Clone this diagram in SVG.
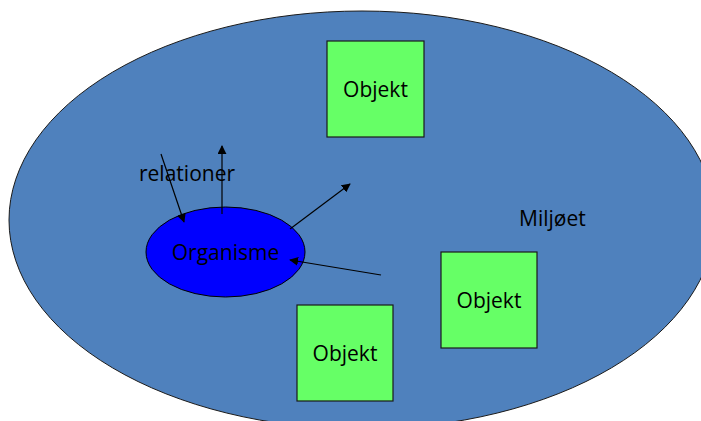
<svg xmlns="http://www.w3.org/2000/svg" width="701" height="421" viewBox="0 0 701 421">
<style>
.t{font-family:"Open Sans","Liberation Sans",Arial,sans-serif;font-size:21px;fill:#000}
.obj{fill:#66ff66;stroke:#1a1a1a;stroke-width:1.2}
.c{stroke:#000;stroke-width:1.2;fill:none}
</style>
<defs>
<marker id="ah" viewBox="0 0 10 10" refX="9" refY="5" markerWidth="9" markerHeight="9" markerUnits="userSpaceOnUse" orient="auto">
<path d="M0,0 L10,5 L0,10 z" fill="#000"/>
</marker>
</defs>
<rect width="701" height="421" fill="#fff"/>
<g id="miljoet">
<ellipse cx="362" cy="220" rx="353" ry="209" fill="#4f81bd" stroke="#1a1a1a" stroke-width="1"/>
<text class="t" x="519" y="226">Miljøet</text>
</g>
<g id="objekt1">
<rect class="obj" x="327" y="41" width="97" height="96"/>
<text class="t" x="375.5" y="97" text-anchor="middle">Objekt</text>
</g>
<g id="objekt2">
<rect class="obj" x="441" y="252" width="96" height="96"/>
<text class="t" x="489" y="308" text-anchor="middle">Objekt</text>
</g>
<g id="objekt3">
<rect class="obj" x="297" y="305" width="96" height="96"/>
<text class="t" x="345" y="361" text-anchor="middle">Objekt</text>
</g>
<g id="organisme">
<ellipse cx="225.5" cy="252" rx="79.5" ry="45" fill="#0000ff" stroke="#000" stroke-width="1"/>
<text class="t" x="225.5" y="260" text-anchor="middle">Organisme</text>
</g>
<g id="relationer">
<text class="t" x="139" y="181">relationer</text>
</g>
<g id="connectors">
<line class="c" x1="161" y1="154" x2="184" y2="222" marker-end="url(#ah)"/>
<line class="c" x1="222" y1="214" x2="222" y2="146" marker-end="url(#ah)"/>
<line class="c" x1="290" y1="229" x2="350" y2="184" marker-end="url(#ah)"/>
<line class="c" x1="381" y1="275" x2="290" y2="260" marker-end="url(#ah)"/>
</g>
</svg>
